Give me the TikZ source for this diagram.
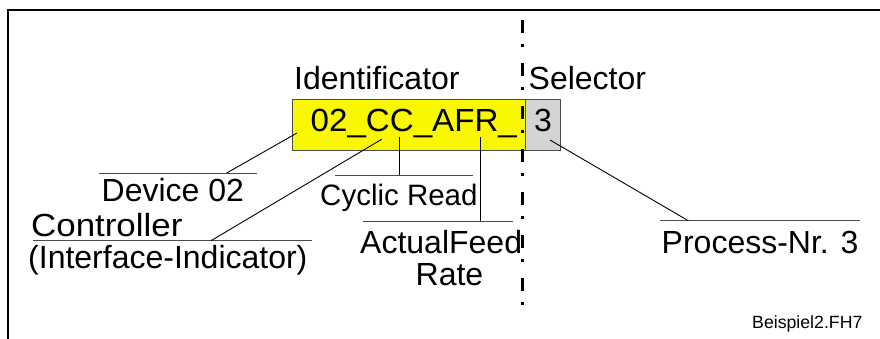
\documentclass[tikz,border=0pt]{standalone}
\usepackage{fontspec}
\usepackage{graphicx}
\setmainfont{Liberation Sans}
\definecolor{boxyellow}{RGB}{250,248,0}
\definecolor{boxgray}{RGB}{212,212,212}
\begin{document}
\begin{tikzpicture}[x=1pt,y=-1pt,
  lbl/.style={anchor=base west, inner sep=0pt, font=\fontsize{32}{38}\selectfont},
  small/.style={anchor=base west, inner sep=0pt, font=\fontsize{17.7}{20}\selectfont},
  field/.style={draw=black!70, line width=0.8pt, inner sep=0pt, minimum height=50.7pt},
  lead/.style={line width=0.9pt, black},
  rule/.style={line width=1pt, black!70},
  frame/.style={line width=2pt, line cap=rect},
  divider/.style={line width=3pt, dash pattern=on 13pt off 11pt on 3pt off 16pt}]
\useasboundingbox (0,0) rectangle (880,338);

% open frame: top and left edges only
\draw[frame] (7.8,338) -- (7.8,10) -- (880,10);

% the two fields of the name
\node[field, fill=boxyellow, minimum width=232.7pt] (ident) at (408.65,124.65) {};
\node[field, fill=boxgray, minimum width=35.7pt] (sel) at (542.85,124.65) {};

% headings and field contents
\node[lbl] (identhead) at (294,89.3) {Identificator};
\node[lbl] (selhead) at (528.5,89.3) {Selector};
\node[lbl] (code) at (310.5,131.7) {\scalebox{1.035}[1]{02\_CC\_AFR\_}};
\node[lbl, anchor=base] (num) at (543,131.7) {3};

% labels of the parts
\node[lbl] (dev) at (101.5,201) {Device 02};
\node[lbl] (ctrl) at (31,236.7) {\scalebox{1.09}[1]{Controller}};
\node[lbl] (iface) at (28,268) {(Interface-Indicator)};
\node[lbl, font=\fontsize{29.5}{36}\selectfont] (cyc) at (320,205) {Cyclic Read};
\node[lbl] (afr1) at (360,253.3) {ActualFeed};
\node[lbl] (afr2) at (415.5,285) {Rate};
\node[lbl] (proc) at (661.5,253.3) {Process-Nr. 3};
\node[small] (file) at (752,328.3) {Beispiel2.FH7};

% leader end points
\coordinate (devA) at (297,133);
\coordinate (devB) at (226.7,173);
\coordinate (devL) at (99.3,173);
\coordinate (devR) at (256.7,173);
\coordinate (ctrlA) at (381.7,139.3);
\coordinate (ctrlB) at (211,240.7);
\coordinate (ctrlL) at (33,240.7);
\coordinate (ctrlR) at (311.7,240.7);
\coordinate (cycA) at (399.3,137.3);
\coordinate (cycB) at (399.3,175);
\coordinate (cycL) at (335,175);
\coordinate (cycR) at (473.3,175);
\coordinate (afrA) at (480,137.3);
\coordinate (afrB) at (480,221);
\coordinate (afrL) at (362.7,221);
\coordinate (afrR) at (512.7,221);
\coordinate (procA) at (550,140);
\coordinate (procB) at (688.3,220.7);
\coordinate (procL) at (660,220.7);
\coordinate (procR) at (860,220.7);

% rules above the labels
\draw[rule] (devL) -- (devR);
\draw[rule] (ctrlL) -- (ctrlR);
\draw[rule] (cycL) -- (cycR);
\draw[rule] (afrL) -- (afrR);
\draw[rule] (procL) -- (procR);

% leaders from the fields to the rules
\draw[lead] (devA) -- (devB);
\draw[lead] (ctrlA) -- (ctrlB);
\draw[lead] (cycA) -- (cycB);
\draw[lead] (afrA) -- (afrB);
\draw[lead] (procA) -- (procB);

% dash-dot divider between identifier and selector
\coordinate (divTop) at (522.7,20);
\coordinate (divBot) at (522.7,306);
\draw[divider] (divTop) -- (divBot);
\end{tikzpicture}
\end{document}
